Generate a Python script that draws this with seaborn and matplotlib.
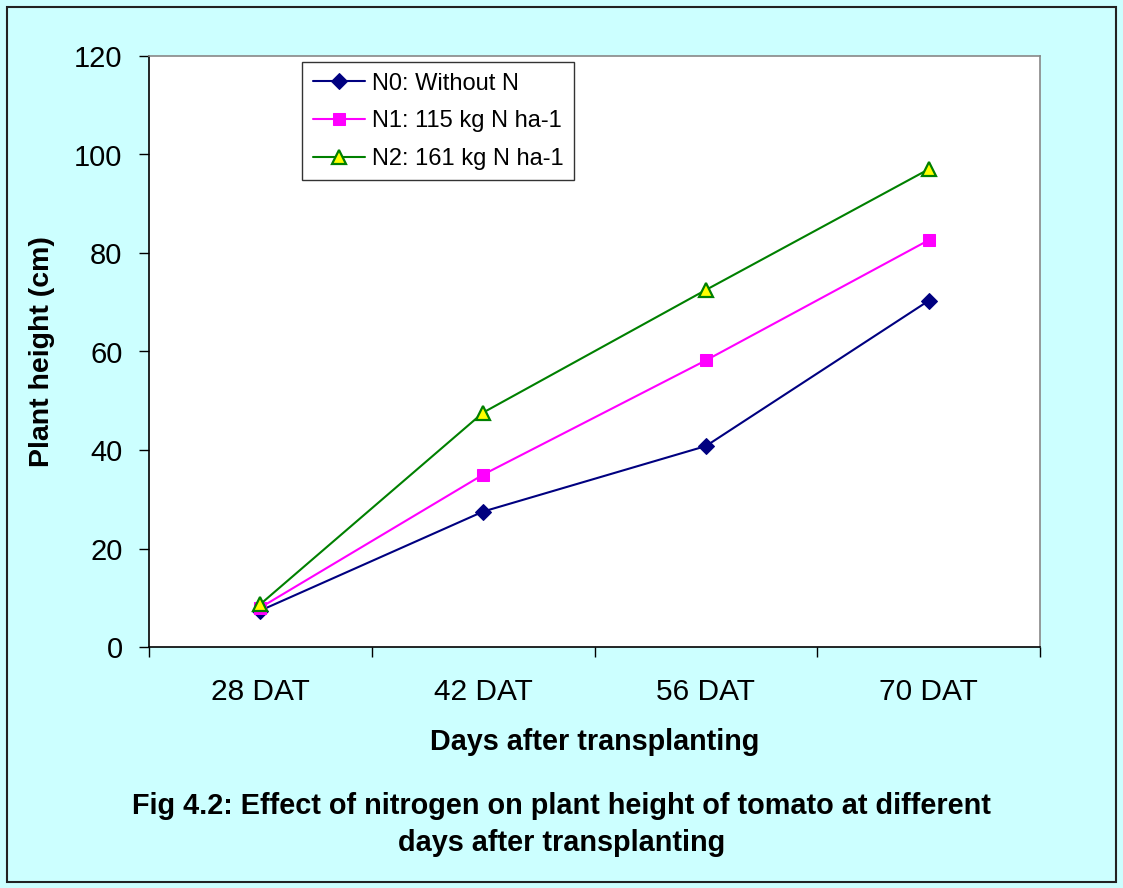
import matplotlib
matplotlib.use("Agg")
import matplotlib.pyplot as plt
import seaborn as sns
import pandas as pd
from matplotlib.patches import Rectangle

# Plant height (cm) by days after transplanting
days = ["28 DAT", "42 DAT", "56 DAT", "70 DAT"]
n0_height = [7.4, 27.5, 40.8, 70.3]
n1_height = [8.0, 35.0, 58.2, 82.6]
n2_height = [8.7, 47.6, 72.5, 97.0]
series_names = ["N0: Without N", "N1: 115 kg N ha-1", "N2: 161 kg N ha-1"]
y_ticks = [0, 20, 40, 60, 80, 100, 120]

sns.set_theme(style="white")
plt.rcParams["font.family"] = ["Liberation Sans", "DejaVu Sans"]
plt.rcParams["text.color"] = "black"
plt.rcParams["axes.labelcolor"] = "black"
plt.rcParams["xtick.color"] = "black"
plt.rcParams["ytick.color"] = "black"

df = pd.DataFrame({
    "day": days * 3,
    "height": n0_height + n1_height + n2_height,
    "series": [series_names[0]] * 4 + [series_names[1]] * 4 + [series_names[2]] * 4,
})

fig = plt.figure(figsize=(11.23, 8.88), dpi=100)
fig.patch.set_facecolor("#CCFFFF")
fig.patches.append(Rectangle((7 / 1123, 6 / 888), 1109 / 1123, 875 / 888,
                             transform=fig.transFigure, fill=False,
                             edgecolor="#222222", linewidth=1.5))

ax = fig.add_axes([149 / 1123, 1 - 647 / 888, 891 / 1123, 591 / 888])
ax.set_facecolor("white")

styles = {
    series_names[0]: dict(color="#000080", marker="D", markersize=8,
                          markerfacecolor="#000080", markeredgecolor="#000080"),
    series_names[1]: dict(color="#FF00FF", marker="s", markersize=9,
                          markerfacecolor="#FF00FF", markeredgecolor="#FF00FF"),
    series_names[2]: dict(color="#008000", marker="^", markersize=10,
                          markerfacecolor="#FFFF00", markeredgecolor="#008000",
                          markeredgewidth=1.6),
}

for name in series_names:
    sub = df[df["series"] == name]
    sns.lineplot(data=sub, x="day", y="height", ax=ax, label=name,
                 linewidth=1.5, sort=False, **styles[name])

ax.set_xlim(-0.5, 3.5)
ax.set_ylim(0, 120)
ax.set_yticks(y_ticks)
ax.set_xticks([-0.5, 0.5, 1.5, 2.5, 3.5])
ax.set_xticklabels([])
ax.set_xticks(range(4), minor=True)
ax.set_xticklabels(days, minor=True, fontsize=21.5)
ax.tick_params(axis="x", which="minor", length=0, pad=22)
ax.tick_params(axis="x", which="major", direction="out", length=7, width=1,
               color="black", bottom=True)
ax.tick_params(axis="y", direction="out", length=7, width=1, color="black",
               left=True, labelsize=21, pad=12)

for side in ["left", "bottom"]:
    ax.spines[side].set_color("black")
    ax.spines[side].set_linewidth(1.2)
for side in ["top", "right"]:
    ax.spines[side].set_color("#888888")
    ax.spines[side].set_linewidth(1.2)

ax.set_xlabel("Days after transplanting", fontsize=20.7, fontweight="bold", labelpad=16)
ax.set_ylabel("Plant height (cm)", fontsize=20.5, fontweight="bold", labelpad=14)

leg = ax.legend(loc="upper left", bbox_to_anchor=(153 / 891, 1 - 6 / 591),
                borderaxespad=0, fontsize=17, frameon=True, fancybox=False,
                framealpha=1, edgecolor="#333333", borderpad=0.45,
                labelspacing=0.66, handlelength=2.2, handletextpad=0.3)
leg.get_frame().set_linewidth(1.0)

fig.text(0.5, 1 - 806 / 888, "Fig 4.2: Effect of nitrogen on plant height of tomato at different",
         ha="center", va="center", fontsize=20.8, fontweight="bold")
fig.text(0.5, 1 - 843 / 888, "days after transplanting",
         ha="center", va="center", fontsize=20.8, fontweight="bold")

fig.savefig("out.png", dpi=100, facecolor=fig.get_facecolor())
